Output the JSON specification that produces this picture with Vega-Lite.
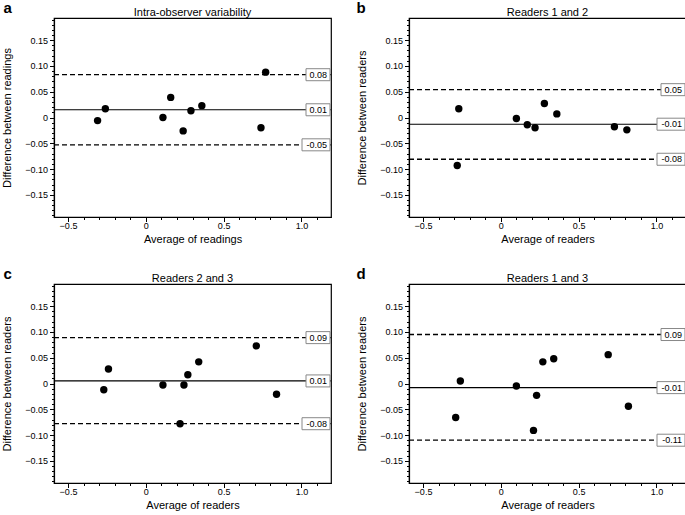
{
  "$schema": "https://vega.github.io/schema/vega-lite/v6.json",
  "padding": {"left": 1, "top": -1, "right": 0, "bottom": 0},
  "background": "white",
  "datasets": {
    "points": [
      {"panel": "a", "avg": -0.31, "diff": -0.006},
      {"panel": "a", "avg": -0.26, "diff": 0.017},
      {"panel": "a", "avg": 0.11, "diff": 0.0},
      {"panel": "a", "avg": 0.16, "diff": 0.039},
      {"panel": "a", "avg": 0.24, "diff": -0.026},
      {"panel": "a", "avg": 0.29, "diff": 0.013},
      {"panel": "a", "avg": 0.36, "diff": 0.023},
      {"panel": "a", "avg": 0.74, "diff": -0.02},
      {"panel": "a", "avg": 0.77, "diff": 0.088},
      {"panel": "b", "avg": -0.27, "diff": 0.017},
      {"panel": "b", "avg": -0.28, "diff": -0.093},
      {"panel": "b", "avg": 0.10, "diff": -0.002},
      {"panel": "b", "avg": 0.17, "diff": -0.014},
      {"panel": "b", "avg": 0.22, "diff": -0.02},
      {"panel": "b", "avg": 0.28, "diff": 0.027},
      {"panel": "b", "avg": 0.36, "diff": 0.007},
      {"panel": "b", "avg": 0.73, "diff": -0.018},
      {"panel": "b", "avg": 0.81, "diff": -0.024},
      {"panel": "c", "avg": -0.27, "diff": -0.012},
      {"panel": "c", "avg": -0.24, "diff": 0.028},
      {"panel": "c", "avg": 0.11, "diff": -0.003},
      {"panel": "c", "avg": 0.22, "diff": -0.078},
      {"panel": "c", "avg": 0.245, "diff": -0.003},
      {"panel": "c", "avg": 0.27, "diff": 0.017},
      {"panel": "c", "avg": 0.34, "diff": 0.042},
      {"panel": "c", "avg": 0.71, "diff": 0.073},
      {"panel": "c", "avg": 0.84, "diff": -0.021},
      {"panel": "d", "avg": -0.29, "diff": -0.066},
      {"panel": "d", "avg": -0.26, "diff": 0.005},
      {"panel": "d", "avg": 0.10, "diff": -0.005},
      {"panel": "d", "avg": 0.21, "diff": -0.091},
      {"panel": "d", "avg": 0.23, "diff": -0.023},
      {"panel": "d", "avg": 0.27, "diff": 0.042},
      {"panel": "d", "avg": 0.34, "diff": 0.048},
      {"panel": "d", "avg": 0.69, "diff": 0.056},
      {"panel": "d", "avg": 0.82, "diff": -0.044}
    ],
    "lines": [
      {"panel": "a", "kind": "mean", "v": 0.015, "lab": "0.01"},
      {"panel": "a", "kind": "limit", "v": 0.083, "lab": "0.08"},
      {"panel": "a", "kind": "limit", "v": -0.053, "lab": "-0.05"},
      {"panel": "b", "kind": "mean", "v": -0.013, "lab": "-0.01"},
      {"panel": "b", "kind": "limit", "v": 0.054, "lab": "0.05"},
      {"panel": "b", "kind": "limit", "v": -0.081, "lab": "-0.08"},
      {"panel": "c", "kind": "mean", "v": 0.005, "lab": "0.01"},
      {"panel": "c", "kind": "limit", "v": 0.089, "lab": "0.09"},
      {"panel": "c", "kind": "limit", "v": -0.078, "lab": "-0.08"},
      {"panel": "d", "kind": "mean", "v": -0.008, "lab": "-0.01"},
      {"panel": "d", "kind": "limit", "v": 0.095, "lab": "0.09"},
      {"panel": "d", "kind": "limit", "v": -0.11, "lab": "-0.11"}
    ]
  },
  "columns": 2,
  "spacing": {"column": 22, "row": 19},
  "concat": [
    {
      "width": 277, "height": 199,
      "title": {"text": "Intra-observer variability"},
      "resolve": {"axis": {"x": "independent", "y": "independent"}},
      "layer": [
        {
          "data": {"name": "lines"},
          "transform": [{"filter": "datum.panel == 'a'"}],
          "mark": {"type": "rule", "color": "black"},
          "encoding": {
            "y": {"field": "v", "type": "quantitative", "axis": null, "scale": {"domain": [-0.193, 0.193], "nice": false, "zero": false}},
            "strokeDash": {"condition": {"test": "datum.kind == 'mean'", "value": [1, 0]}, "value": [5, 3]},
            "strokeWidth": {"condition": {"test": "datum.kind == 'mean'", "value": 1.1}, "value": 1.3}
          }
        },
        {
          "data": {"name": "points"},
          "transform": [{"filter": "datum.panel == 'a'"}],
          "mark": {"type": "circle", "color": "black", "opacity": 1, "size": 55},
          "encoding": {
            "x": {"field": "avg", "type": "quantitative", "scale": {"domain": [-0.59, 1.19], "nice": false, "zero": false},
              "axis": {"title": "Average of readings", "values": [-0.5,-0.4,-0.3,-0.2,-0.1,0,0.1,0.2,0.3,0.4,0.5,0.6,0.7,0.8,0.9,1.0,1.1],
                "labelExpr": "abs(round(datum.value*10)) % 5 == 0 ? (abs(datum.value) < 1e-9 ? '0' : format(datum.value, '.1f')) : ''",
                "labelOverlap": false, "labelFlush": false, "labelPadding": 0, "titlePadding": 3,
                "tickSize": {"condition": {"test": "abs(round(datum.value*10)) % 5 == 0", "value": 4.5}, "value": 2.5}}},
            "y": {"field": "diff", "type": "quantitative", "scale": {"domain": [-0.193, 0.193], "nice": false, "zero": false},
              "axis": {"title": "Difference between readings", "values": [-0.19,-0.18,-0.17,-0.16,-0.15,-0.14,-0.13,-0.12,-0.11,-0.1,-0.09,-0.08,-0.07,-0.06,-0.05,-0.04,-0.03,-0.02,-0.01,0,0.01,0.02,0.03,0.04,0.05,0.06,0.07,0.08,0.09,0.1,0.11,0.12,0.13,0.14,0.15,0.16,0.17,0.18,0.19],
                "labelExpr": "abs(round(datum.value*100)) % 5 == 0 ? (abs(datum.value) < 1e-9 ? '0' : format(datum.value, '.2f')) : ''",
                "labelOverlap": false, "labelPadding": 2, "titlePadding": 12,
                "tickSize": {"condition": {"test": "abs(round(datum.value*100)) % 5 == 0", "value": 4.5}, "value": 2.5}}}
          }
        },
        {
          "data": {"name": "lines"},
          "transform": [{"filter": "datum.panel == 'a'"}],
          "mark": {"type": "point", "filled": true, "fill": "white", "stroke": "#888888", "strokeWidth": 1, "size": 4, "opacity": 1},
          "encoding": {
            "x": {"datum": 1.19, "type": "quantitative", "scale": {"domain": [-0.59, 1.19], "nice": false, "zero": false}, "axis": null},
            "y": {"field": "v", "type": "quantitative", "axis": null, "scale": {"domain": [-0.193, 0.193], "nice": false, "zero": false}},
            "shape": {"condition": {"test": "datum.v < 0", "value": "M-29,-6H-1V6H-29Z"}, "value": "M-25,-6H-1V6H-25Z"}
          }
        },
        {
          "data": {"name": "lines"},
          "transform": [{"filter": "datum.panel == 'a'"}],
          "mark": {"type": "text", "align": "right", "baseline": "middle", "dx": -4, "fontSize": 9, "font": "Liberation Sans", "color": "black"},
          "encoding": {
            "x": {"datum": 1.19, "type": "quantitative", "scale": {"domain": [-0.59, 1.19], "nice": false, "zero": false},
              "axis": {"orient": "top", "labels": false, "ticks": false, "domain": false, "grid": false, "title": "a", "titleX": -51, "titleY": -6, "titleAlign": "left", "titleBaseline": "alphabetic", "titleAngle": 0, "titleFontSize": 15, "titleFontWeight": "bold"}},
            "y": {"field": "v", "type": "quantitative", "axis": null, "scale": {"domain": [-0.193, 0.193], "nice": false, "zero": false}},
            "text": {"field": "lab"}
          }
        }
      ]
    },
    {
      "width": 277, "height": 199,
      "title": {"text": "Readers 1 and 2"},
      "resolve": {"axis": {"x": "independent", "y": "independent"}},
      "layer": [
        {
          "data": {"name": "lines"},
          "transform": [{"filter": "datum.panel == 'b'"}],
          "mark": {"type": "rule", "color": "black"},
          "encoding": {
            "y": {"field": "v", "type": "quantitative", "axis": null, "scale": {"domain": [-0.193, 0.193], "nice": false, "zero": false}},
            "strokeDash": {"condition": {"test": "datum.kind == 'mean'", "value": [1, 0]}, "value": [5, 3]},
            "strokeWidth": {"condition": {"test": "datum.kind == 'mean'", "value": 1.1}, "value": 1.3}
          }
        },
        {
          "data": {"name": "points"},
          "transform": [{"filter": "datum.panel == 'b'"}],
          "mark": {"type": "circle", "color": "black", "opacity": 1, "size": 55},
          "encoding": {
            "x": {"field": "avg", "type": "quantitative", "scale": {"domain": [-0.59, 1.19], "nice": false, "zero": false},
              "axis": {"title": "Average of readers", "values": [-0.5,-0.4,-0.3,-0.2,-0.1,0,0.1,0.2,0.3,0.4,0.5,0.6,0.7,0.8,0.9,1.0,1.1],
                "labelExpr": "abs(round(datum.value*10)) % 5 == 0 ? (abs(datum.value) < 1e-9 ? '0' : format(datum.value, '.1f')) : ''",
                "labelOverlap": false, "labelFlush": false, "labelPadding": 0, "titlePadding": 3,
                "tickSize": {"condition": {"test": "abs(round(datum.value*10)) % 5 == 0", "value": 4.5}, "value": 2.5}}},
            "y": {"field": "diff", "type": "quantitative", "scale": {"domain": [-0.193, 0.193], "nice": false, "zero": false},
              "axis": {"title": "Difference between readers", "values": [-0.19,-0.18,-0.17,-0.16,-0.15,-0.14,-0.13,-0.12,-0.11,-0.1,-0.09,-0.08,-0.07,-0.06,-0.05,-0.04,-0.03,-0.02,-0.01,0,0.01,0.02,0.03,0.04,0.05,0.06,0.07,0.08,0.09,0.1,0.11,0.12,0.13,0.14,0.15,0.16,0.17,0.18,0.19],
                "labelExpr": "abs(round(datum.value*100)) % 5 == 0 ? (abs(datum.value) < 1e-9 ? '0' : format(datum.value, '.2f')) : ''",
                "labelOverlap": false, "labelPadding": 2, "titlePadding": 12,
                "tickSize": {"condition": {"test": "abs(round(datum.value*100)) % 5 == 0", "value": 4.5}, "value": 2.5}}}
          }
        },
        {
          "data": {"name": "lines"},
          "transform": [{"filter": "datum.panel == 'b'"}],
          "mark": {"type": "point", "filled": true, "fill": "white", "stroke": "#888888", "strokeWidth": 1, "size": 4, "opacity": 1},
          "encoding": {
            "x": {"datum": 1.19, "type": "quantitative", "scale": {"domain": [-0.59, 1.19], "nice": false, "zero": false}, "axis": null},
            "y": {"field": "v", "type": "quantitative", "axis": null, "scale": {"domain": [-0.193, 0.193], "nice": false, "zero": false}},
            "shape": {"condition": {"test": "datum.v < 0", "value": "M-29,-6H-1V6H-29Z"}, "value": "M-25,-6H-1V6H-25Z"}
          }
        },
        {
          "data": {"name": "lines"},
          "transform": [{"filter": "datum.panel == 'b'"}],
          "mark": {"type": "text", "align": "right", "baseline": "middle", "dx": -4, "fontSize": 9, "font": "Liberation Sans", "color": "black"},
          "encoding": {
            "x": {"datum": 1.19, "type": "quantitative", "scale": {"domain": [-0.59, 1.19], "nice": false, "zero": false},
              "axis": {"orient": "top", "labels": false, "ticks": false, "domain": false, "grid": false, "title": "b", "titleX": -53, "titleY": -6, "titleAlign": "left", "titleBaseline": "alphabetic", "titleAngle": 0, "titleFontSize": 15, "titleFontWeight": "bold"}},
            "y": {"field": "v", "type": "quantitative", "axis": null, "scale": {"domain": [-0.193, 0.193], "nice": false, "zero": false}},
            "text": {"field": "lab"}
          }
        }
      ]
    },
    {
      "width": 277, "height": 199,
      "title": {"text": "Readers 2 and 3"},
      "resolve": {"axis": {"x": "independent", "y": "independent"}},
      "layer": [
        {
          "data": {"name": "lines"},
          "transform": [{"filter": "datum.panel == 'c'"}],
          "mark": {"type": "rule", "color": "black"},
          "encoding": {
            "y": {"field": "v", "type": "quantitative", "axis": null, "scale": {"domain": [-0.193, 0.193], "nice": false, "zero": false}},
            "strokeDash": {"condition": {"test": "datum.kind == 'mean'", "value": [1, 0]}, "value": [5, 3]},
            "strokeWidth": {"condition": {"test": "datum.kind == 'mean'", "value": 1.1}, "value": 1.3}
          }
        },
        {
          "data": {"name": "points"},
          "transform": [{"filter": "datum.panel == 'c'"}],
          "mark": {"type": "circle", "color": "black", "opacity": 1, "size": 55},
          "encoding": {
            "x": {"field": "avg", "type": "quantitative", "scale": {"domain": [-0.59, 1.19], "nice": false, "zero": false},
              "axis": {"title": "Average of readers", "values": [-0.5,-0.4,-0.3,-0.2,-0.1,0,0.1,0.2,0.3,0.4,0.5,0.6,0.7,0.8,0.9,1.0,1.1],
                "labelExpr": "abs(round(datum.value*10)) % 5 == 0 ? (abs(datum.value) < 1e-9 ? '0' : format(datum.value, '.1f')) : ''",
                "labelOverlap": false, "labelFlush": false, "labelPadding": 0, "titlePadding": 3,
                "tickSize": {"condition": {"test": "abs(round(datum.value*10)) % 5 == 0", "value": 4.5}, "value": 2.5}}},
            "y": {"field": "diff", "type": "quantitative", "scale": {"domain": [-0.193, 0.193], "nice": false, "zero": false},
              "axis": {"title": "Difference between readers", "values": [-0.19,-0.18,-0.17,-0.16,-0.15,-0.14,-0.13,-0.12,-0.11,-0.1,-0.09,-0.08,-0.07,-0.06,-0.05,-0.04,-0.03,-0.02,-0.01,0,0.01,0.02,0.03,0.04,0.05,0.06,0.07,0.08,0.09,0.1,0.11,0.12,0.13,0.14,0.15,0.16,0.17,0.18,0.19],
                "labelExpr": "abs(round(datum.value*100)) % 5 == 0 ? (abs(datum.value) < 1e-9 ? '0' : format(datum.value, '.2f')) : ''",
                "labelOverlap": false, "labelPadding": 2, "titlePadding": 12,
                "tickSize": {"condition": {"test": "abs(round(datum.value*100)) % 5 == 0", "value": 4.5}, "value": 2.5}}}
          }
        },
        {
          "data": {"name": "lines"},
          "transform": [{"filter": "datum.panel == 'c'"}],
          "mark": {"type": "point", "filled": true, "fill": "white", "stroke": "#888888", "strokeWidth": 1, "size": 4, "opacity": 1},
          "encoding": {
            "x": {"datum": 1.19, "type": "quantitative", "scale": {"domain": [-0.59, 1.19], "nice": false, "zero": false}, "axis": null},
            "y": {"field": "v", "type": "quantitative", "axis": null, "scale": {"domain": [-0.193, 0.193], "nice": false, "zero": false}},
            "shape": {"condition": {"test": "datum.v < 0", "value": "M-29,-6H-1V6H-29Z"}, "value": "M-25,-6H-1V6H-25Z"}
          }
        },
        {
          "data": {"name": "lines"},
          "transform": [{"filter": "datum.panel == 'c'"}],
          "mark": {"type": "text", "align": "right", "baseline": "middle", "dx": -4, "fontSize": 9, "font": "Liberation Sans", "color": "black"},
          "encoding": {
            "x": {"datum": 1.19, "type": "quantitative", "scale": {"domain": [-0.59, 1.19], "nice": false, "zero": false},
              "axis": {"orient": "top", "labels": false, "ticks": false, "domain": false, "grid": false, "title": "c", "titleX": -51, "titleY": -6, "titleAlign": "left", "titleBaseline": "alphabetic", "titleAngle": 0, "titleFontSize": 15, "titleFontWeight": "bold"}},
            "y": {"field": "v", "type": "quantitative", "axis": null, "scale": {"domain": [-0.193, 0.193], "nice": false, "zero": false}},
            "text": {"field": "lab"}
          }
        }
      ]
    },
    {
      "width": 277, "height": 199,
      "title": {"text": "Readers 1 and 3"},
      "resolve": {"axis": {"x": "independent", "y": "independent"}},
      "layer": [
        {
          "data": {"name": "lines"},
          "transform": [{"filter": "datum.panel == 'd'"}],
          "mark": {"type": "rule", "color": "black"},
          "encoding": {
            "y": {"field": "v", "type": "quantitative", "axis": null, "scale": {"domain": [-0.193, 0.193], "nice": false, "zero": false}},
            "strokeDash": {"condition": {"test": "datum.kind == 'mean'", "value": [1, 0]}, "value": [5, 3]},
            "strokeWidth": {"condition": {"test": "datum.kind == 'mean'", "value": 1.1}, "value": 1.3}
          }
        },
        {
          "data": {"name": "points"},
          "transform": [{"filter": "datum.panel == 'd'"}],
          "mark": {"type": "circle", "color": "black", "opacity": 1, "size": 55},
          "encoding": {
            "x": {"field": "avg", "type": "quantitative", "scale": {"domain": [-0.59, 1.19], "nice": false, "zero": false},
              "axis": {"title": "Average of readers", "values": [-0.5,-0.4,-0.3,-0.2,-0.1,0,0.1,0.2,0.3,0.4,0.5,0.6,0.7,0.8,0.9,1.0,1.1],
                "labelExpr": "abs(round(datum.value*10)) % 5 == 0 ? (abs(datum.value) < 1e-9 ? '0' : format(datum.value, '.1f')) : ''",
                "labelOverlap": false, "labelFlush": false, "labelPadding": 0, "titlePadding": 3,
                "tickSize": {"condition": {"test": "abs(round(datum.value*10)) % 5 == 0", "value": 4.5}, "value": 2.5}}},
            "y": {"field": "diff", "type": "quantitative", "scale": {"domain": [-0.193, 0.193], "nice": false, "zero": false},
              "axis": {"title": "Difference between readers", "values": [-0.19,-0.18,-0.17,-0.16,-0.15,-0.14,-0.13,-0.12,-0.11,-0.1,-0.09,-0.08,-0.07,-0.06,-0.05,-0.04,-0.03,-0.02,-0.01,0,0.01,0.02,0.03,0.04,0.05,0.06,0.07,0.08,0.09,0.1,0.11,0.12,0.13,0.14,0.15,0.16,0.17,0.18,0.19],
                "labelExpr": "abs(round(datum.value*100)) % 5 == 0 ? (abs(datum.value) < 1e-9 ? '0' : format(datum.value, '.2f')) : ''",
                "labelOverlap": false, "labelPadding": 2, "titlePadding": 12,
                "tickSize": {"condition": {"test": "abs(round(datum.value*100)) % 5 == 0", "value": 4.5}, "value": 2.5}}}
          }
        },
        {
          "data": {"name": "lines"},
          "transform": [{"filter": "datum.panel == 'd'"}],
          "mark": {"type": "point", "filled": true, "fill": "white", "stroke": "#888888", "strokeWidth": 1, "size": 4, "opacity": 1},
          "encoding": {
            "x": {"datum": 1.19, "type": "quantitative", "scale": {"domain": [-0.59, 1.19], "nice": false, "zero": false}, "axis": null},
            "y": {"field": "v", "type": "quantitative", "axis": null, "scale": {"domain": [-0.193, 0.193], "nice": false, "zero": false}},
            "shape": {"condition": {"test": "datum.v < 0", "value": "M-29,-6H-1V6H-29Z"}, "value": "M-25,-6H-1V6H-25Z"}
          }
        },
        {
          "data": {"name": "lines"},
          "transform": [{"filter": "datum.panel == 'd'"}],
          "mark": {"type": "text", "align": "right", "baseline": "middle", "dx": -4, "fontSize": 9, "font": "Liberation Sans", "color": "black"},
          "encoding": {
            "x": {"datum": 1.19, "type": "quantitative", "scale": {"domain": [-0.59, 1.19], "nice": false, "zero": false},
              "axis": {"orient": "top", "labels": false, "ticks": false, "domain": false, "grid": false, "title": "d", "titleX": -53, "titleY": -6, "titleAlign": "left", "titleBaseline": "alphabetic", "titleAngle": 0, "titleFontSize": 15, "titleFontWeight": "bold"}},
            "y": {"field": "v", "type": "quantitative", "axis": null, "scale": {"domain": [-0.193, 0.193], "nice": false, "zero": false}},
            "text": {"field": "lab"}
          }
        }
      ]
    }
  ],
  "config": {
    "view": {"stroke": "black", "strokeWidth": 1.2},
    "axis": {"labelFont": "Liberation Sans", "labelFontSize": 9, "labelColor": "black", "titleFont": "Liberation Sans", "titleFontSize": 11, "titleFontWeight": "normal", "titleColor": "black", "tickColor": "black", "domainColor": "black", "domainWidth": 1.2, "tickWidth": 1, "grid": false},
    "title": {"font": "Liberation Sans", "fontSize": 11, "fontWeight": "normal", "color": "black", "anchor": "middle", "offset": -18}
  }
}
